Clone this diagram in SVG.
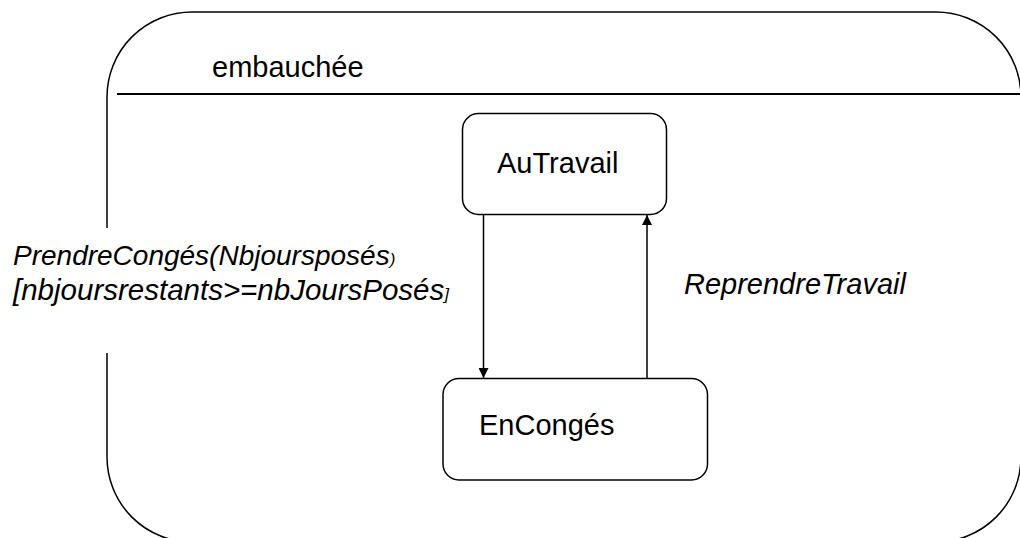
<svg xmlns="http://www.w3.org/2000/svg" width="1020" height="538" viewBox="0 0 1020 538">
<style>
text{font-family:"Liberation Sans",Arial,sans-serif;fill:#000}
.st{fill:#fff;stroke:#000;stroke-width:1.5}
.lbl{font-size:29px}
.it{font-style:italic}
.edge{fill:none;stroke:#000;stroke-width:1.5}
</style>
<defs>
<marker id="ah" viewBox="0 0 10 10" refX="10" refY="5" markerWidth="10" markerHeight="10" markerUnits="userSpaceOnUse" orient="auto">
<path d="M0,0 L10,5 L0,10 Z" fill="#000"/>
</marker>
</defs>
<rect width="1020" height="538" fill="#fff"/>
<g id="embauchee">
<path class="edge" d="M107,228 V97 A85,85 0 0 1 192,12 H936 A85,85 0 0 1 1021,97 V457 A85,85 0 0 1 936,542 H192 A85,85 0 0 1 107,457 V353"/>
<line x1="117" y1="94" x2="1021" y2="94" stroke="#000" stroke-width="2"/>
<text class="lbl" x="212" y="77">embauchée</text>
</g>
<g id="AuTravail">
<rect class="st" x="462.5" y="113.5" width="204" height="101" rx="16"/>
<text class="lbl" x="497" y="173">AuTravail</text>
</g>
<g id="EnConges">
<rect class="st" x="443" y="378.5" width="264.5" height="101.5" rx="16"/>
<text class="lbl" x="479" y="435">EnCongés</text>
</g>
<g id="connectors">
<line class="edge" x1="483.5" y1="215" x2="483.5" y2="378" marker-end="url(#ah)"/>
<line class="edge" x1="647" y1="378" x2="647" y2="215" marker-end="url(#ah)"/>
<text class="it" x="13" y="265" font-size="28">PrendreCongés(Nbjoursposés<tspan font-size="17">)</tspan></text>
<text class="it" x="13" y="300" font-size="29.5">[nbjoursrestants&gt;=nbJoursPosés<tspan font-size="17">]</tspan></text>
<text class="lbl it" x="684" y="294">ReprendreTravail</text>
</g>
</svg>
